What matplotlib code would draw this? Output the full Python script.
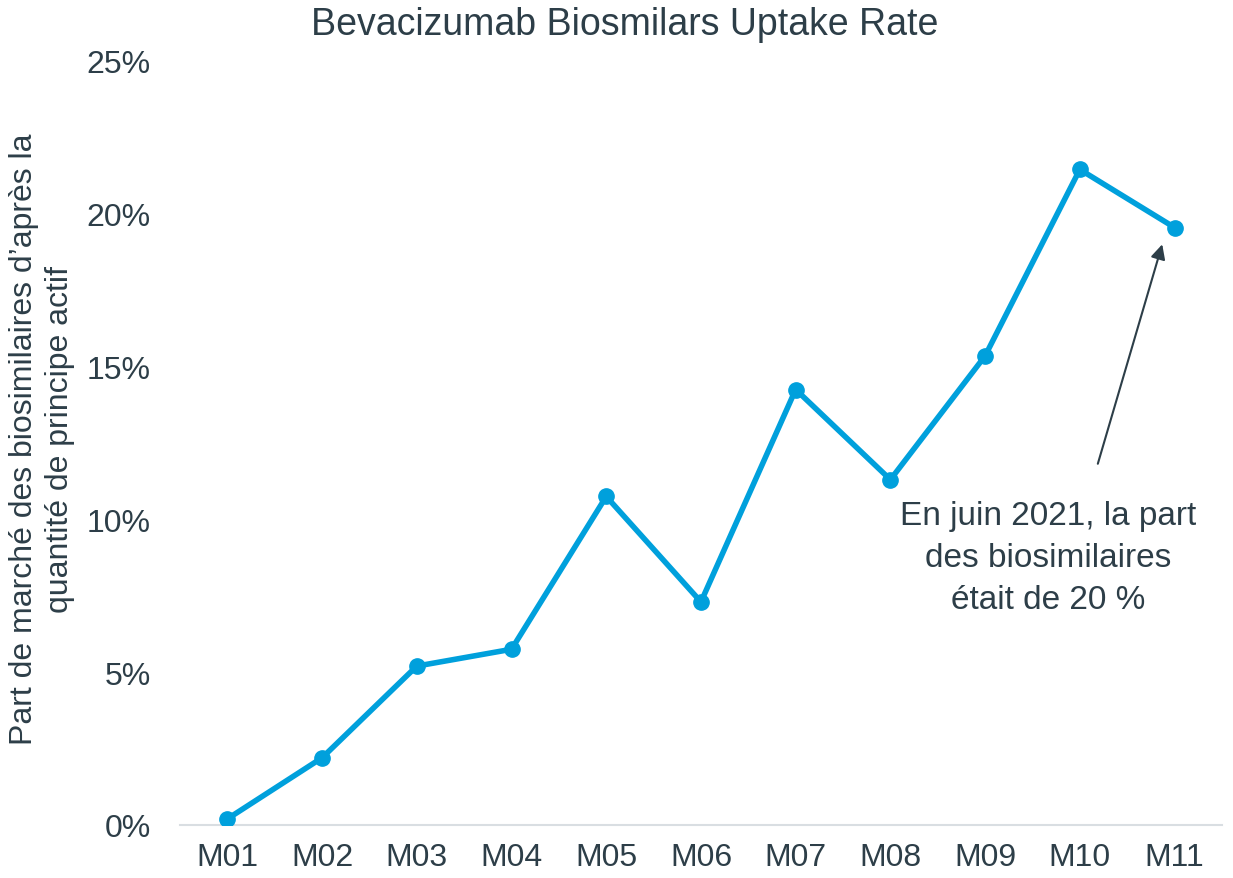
import matplotlib
matplotlib.use("Agg")
import matplotlib.pyplot as plt
from matplotlib.ticker import FuncFormatter

months = ["M01", "M02", "M03", "M04", "M05", "M06", "M07", "M08", "M09", "M10", "M11"]
share = [0.2, 2.2, 5.2, 5.75, 10.75, 7.3, 14.25, 11.3, 15.35, 21.45, 19.55]
yticks = [0, 5, 10, 15, 20, 25]

plt.rcParams['font.family'] = ['Liberation Sans', 'DejaVu Sans']
txt = '#2d3e48'
blue = '#00a0dc'

fig = plt.figure(figsize=(12.33, 8.79), dpi=100)
ax = fig.add_axes([0.146, 0.0603, 0.845, 0.8692])

x = list(range(len(months)))
ax.plot(x, share, color=blue, lw=4, marker='o', ms=11, solid_capstyle='round', zorder=3)

ax.set_xlim(-0.5, len(months) - 0.5)
ax.set_ylim(0, 25)
ax.set_yticks(yticks)
ax.yaxis.set_major_formatter(FuncFormatter(lambda v, p: f"{v:.0f}%"))
ax.set_xticks(x)
ax.set_xticklabels(months)
ax.tick_params(axis='both', length=0, labelsize=23, colors=txt)
ax.tick_params(axis='y', pad=21)
ax.tick_params(axis='x', pad=12)
for s in ['top', 'right', 'left']:
    ax.spines[s].set_visible(False)
ax.spines['bottom'].set_color('#d9dee2')
ax.spines['bottom'].set_linewidth(1.5)
ax.set_clip_on(False)

fig.text(0.507, 0.972, "Bevacizumab Biosmilars Uptake Rate", ha='center', va='center',
         fontsize=27, color=txt)
fig.text(0.034, 0.50, "Part de marché des biosimilaires d’après la\nquantité de principe actif",
         rotation=90, ha='center', va='center', fontsize=23, color=txt, linespacing=1.25)

ax.annotate("", xy=(9.87, 19.0), xytext=(9.19, 11.82),
            arrowprops=dict(arrowstyle='-|>', color=txt, lw=1.5, mutation_scale=22,
                            shrinkA=0, shrinkB=0))
ax.text(8.67, 8.75, "En juin 2021, la part\ndes biosimilaires\nétait de 20 %",
        ha='center', va='center', fontsize=24, color=txt, linespacing=1.45)

fig.savefig("out.png", dpi=100)
